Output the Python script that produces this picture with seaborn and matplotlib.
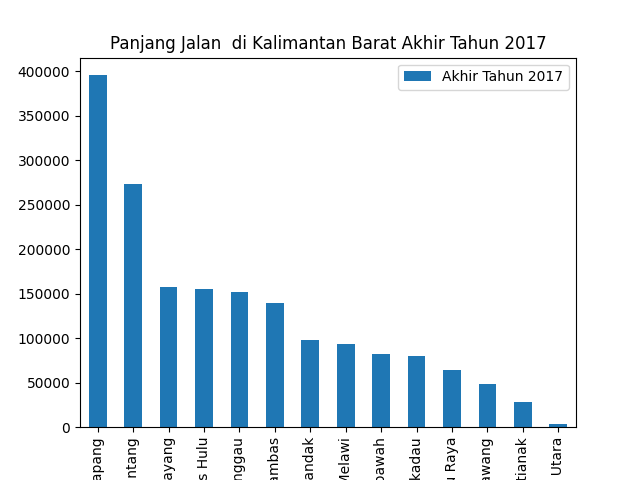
import matplotlib
matplotlib.use("Agg")
import matplotlib.pyplot as plt
import seaborn as sns
import pandas as pd

regions = ["Kabupaten Ketapang", "Kabupaten Sintang", "Kabupaten Bengkayang",
           "Kabupaten Kapuas Hulu", "Kabupaten Sanggau", "Kabupaten Sambas",
           "Kabupaten Landak", "Kabupaten Melawi", "Kabupaten Mempawah",
           "Kabupaten Sekadau", "Kabupaten Kubu Raya", "Kota Singkawang",
           "Kota Pontianak", "Kabupaten Kayong Utara"]
values = [395500, 273000, 157300, 155000, 151700, 139300, 97800, 93300,
          82000, 79800, 64000, 48300, 28100, 3400]
series_name = "Akhir Tahun 2017"
title = "Panjang Jalan  di Kalimantan Barat Akhir Tahun 2017"

df = pd.DataFrame({"region": regions, "value": values})

fig, ax = plt.subplots(figsize=(6.4, 4.8), dpi=100)
sns.barplot(data=df, x="region", y="value", color="#1f77b4", saturation=1,
            width=0.5, label=series_name, ax=ax)
ax.set_xlim(-0.5, len(regions) - 0.5)
ax.set_xlabel("")
ax.set_ylabel("")
ax.set_title(title)
plt.setp(ax.get_xticklabels(), rotation=90)
ax.legend(loc="upper right")
fig.subplots_adjust(left=0.125, right=0.9, top=0.88, bottom=0.11)
fig.savefig("out.png", dpi=100)
